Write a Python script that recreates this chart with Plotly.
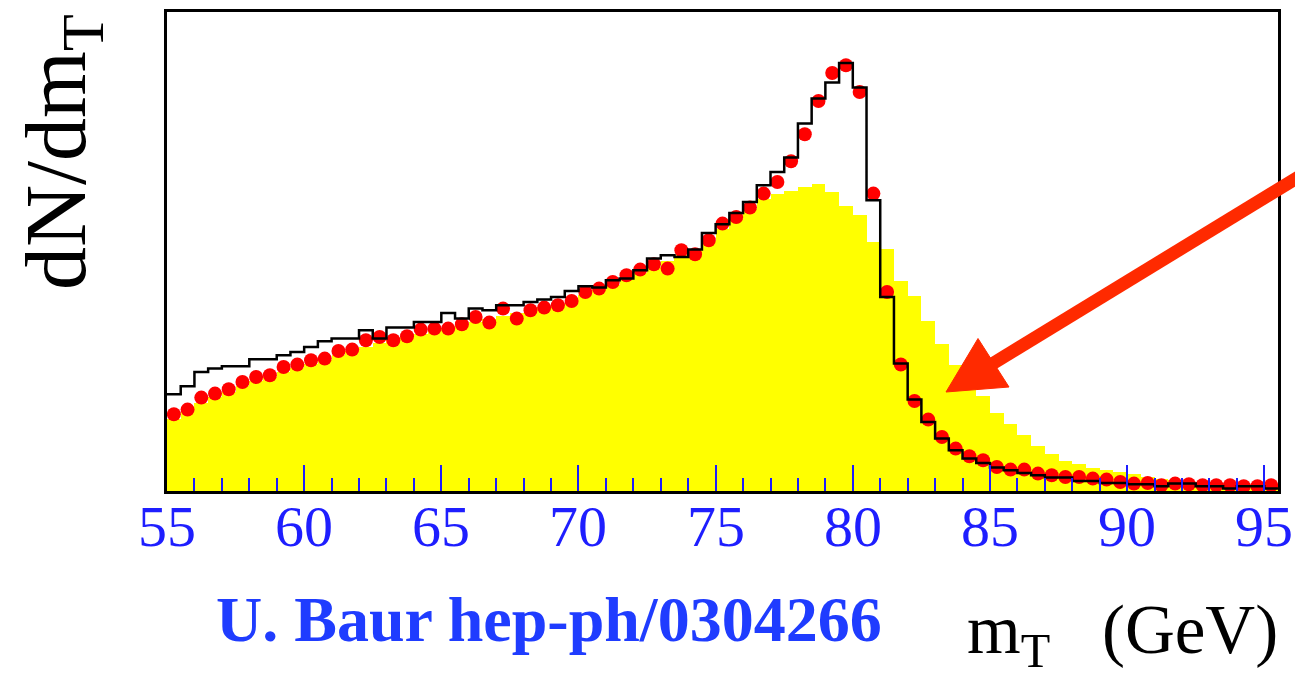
import plotly.graph_objects as go

# ---------------- data ----------------
bin_low = 55.0
bin_width = 0.5

# yellow filled histogram
yellow_vals = [72, 79, 88, 94, 99, 105, 110, 114, 119, 123,
               127, 131, 136, 140, 144, 148, 151, 154, 157, 160,
               163, 166, 169, 172, 175, 178, 181, 184, 187, 191,
               196, 201, 206, 212, 218, 224, 230, 236, 242, 250,
               262, 272, 282, 292, 297, 300, 304, 307, 299, 285,
               276, 249, 242, 210, 195, 170, 147, 126, 111, 95,
               78, 67, 56, 45, 37, 30, 27, 23, 21, 19,
               17, 14, 12, 11, 9, 8, 7, 6, 6, 5,
               5]

# black step histogram
black_vals = [96.7, 104.7, 119, 122.4, 124.7, 124.7, 131.7, 131.7, 135.7, 139,
              144, 149.7, 152.4, 152.4, 160.7, 152.4, 163.4, 163.4, 169, 169,
              178, 172.4, 182.4, 180.7, 185.7, 185.7, 189, 191.4, 194, 200,
              204.7, 203.4, 210.7, 212.4, 220.7, 232.4, 235.7, 234, 241.4, 258,
              266.7, 278, 289, 305.7, 319, 333.4, 367.4, 392.4, 408.4, 428,
              403.4, 290.7, 194, 127.5, 91.4, 69, 52.4, 40.7, 32.4, 28,
              23.4, 20.7, 18, 15.7, 13.4, 13.4, 10, 10, 8, 8,
              6.7, 6.7, 4.7, 7.4, 7.4, 4.7, 4.7, 2.4, 4.7, 4.7,
              2.4]

# red points
red_vals = [76.7, 81.4, 93.4, 97.4, 101.7, 109, 114, 115.7, 124, 126.4,
            130.7, 132.4, 140, 141.4, 150.7, 154, 150.7, 154.7, 161.4, 162.4,
            162.4, 166.7, 174, 168.4, 182.4, 172.4, 180.7, 183.4, 185.7, 190,
            199, 202.4, 209, 215.7, 221.4, 226.7, 222.4, 240.7, 236.7, 250.7,
            267.4, 274, 283.4, 297.4, 309, 329.7, 356.7, 390, 418, 425.7,
            399, 297.4, 199, 126.5, 90, 71.4, 54, 42.4, 34.7, 30.7,
            24, 21.4, 21.4, 17.4, 15.7, 14, 14, 12.4, 11.4, 9,
            7.4, 8, 5.7, 7.4, 6.7, 5.7, 5.7, 5.7, 4.7, 4.7,
            5.7]

tick_values = [55, 60, 65, 70, 75, 80, 85, 90, 95]
tick_labels = ["55", "60", "65", "70", "75", "80", "85", "90", "95"]

# ---------------- derived ----------------
n = len(yellow_vals)
centers = [bin_low + bin_width * (i + 0.5) for i in range(n)]
edges = [bin_low + bin_width * i for i in range(n + 1)]
x_max = edges[-1]

# geometry of the plot area in pixels (for decorations)
L, R, T, B = 167, 1278, 12, 491
W, H = R - L, B - T


def pxx(px):
    return (px - L) / W


def pxy(py):
    return (B - py) / H


SERIF = "Liberation Serif, Times New Roman, serif"
BLUE = "#1e1eff"

fig = go.Figure()

fig.add_trace(go.Bar(
    x=centers, y=yellow_vals, width=bin_width,
    marker=dict(color="#ffff00", line=dict(width=0)),
    hoverinfo="skip", showlegend=False,
))

fig.add_trace(go.Scatter(
    x=centers, y=red_vals, mode="markers",
    marker=dict(color="#ff0000", size=14, line=dict(width=0)),
    showlegend=False,
))

fig.add_trace(go.Scatter(
    x=edges, y=black_vals + [black_vals[-1]], mode="lines",
    line=dict(color="black", width=2.5, shape="hv"),
    showlegend=False,
))

annotations = [
    dict(text=lab, xref="x", yref="paper", x=val, y=pxy(526),
         xanchor="center", yanchor="middle", showarrow=False,
         font=dict(family=SERIF, size=58, color=BLUE))
    for val, lab in zip(tick_values, tick_labels)
]
annotations += [
    dict(text="U. Baur hep-ph/0304266", xref="paper", yref="paper",
         x=pxx(549), y=pxy(619), xanchor="center", yanchor="middle",
         showarrow=False,
         font=dict(family=SERIF, size=64, color="#1f3cff", weight="bold")),
    dict(text="m<sub><span style='color:black'>T</span></sub>&nbsp;&nbsp;&nbsp;(GeV)",
         xref="paper", yref="paper",
         x=pxx(1280), y=pxy(634), xanchor="right", yanchor="middle",
         showarrow=False,
         font=dict(family=SERIF, size=69, color="black")),
    dict(text="dN/dm<sub>T</sub>", xref="paper", yref="paper",
         x=pxx(62), y=pxy(152), xanchor="center", yanchor="middle",
         textangle=-90, showarrow=False,
         font=dict(family=SERIF, size=86, color="black")),
]

fig.update_layout(
    width=1295, height=683,
    margin=dict(l=L, r=1295 - R, t=T, b=683 - B, autoexpand=False),
    paper_bgcolor="white", plot_bgcolor="white",
    bargap=0,
    xaxis=dict(
        range=[bin_low, x_max], automargin=False,
        tickmode="array", tickvals=tick_values, showticklabels=False,
        ticks="inside", ticklen=26, tickwidth=2, tickcolor=BLUE,
        minor=dict(dtick=1, tick0=55, ticks="inside", ticklen=13,
                   tickwidth=2, tickcolor=BLUE, showgrid=False),
        showgrid=False, zeroline=False,
        showline=True, mirror=True, linecolor="black", linewidth=2.5,
    ),
    yaxis=dict(
        range=[0, H], automargin=False,
        showticklabels=False, ticks="",
        showgrid=False, zeroline=False,
        showline=True, mirror=True, linecolor="black", linewidth=2.5,
    ),
    annotations=annotations,
    shapes=[
        dict(type="line", xref="paper", yref="paper",
             x0=pxx(1312), y0=pxy(168.7), x1=pxx(988), y1=pxy(366.5),
             line=dict(color="#ff2a00", width=13)),
        dict(type="path", xref="paper", yref="paper",
             path="M {},{} L {},{} L {},{} Z".format(
                 pxx(946), pxy(392), pxx(978), pxy(338.5),
                 pxx(1009), pxy(387)),
             fillcolor="#ff2a00", line=dict(color="#ff2a00", width=1)),
    ],
)

fig.write_html("out.html")
